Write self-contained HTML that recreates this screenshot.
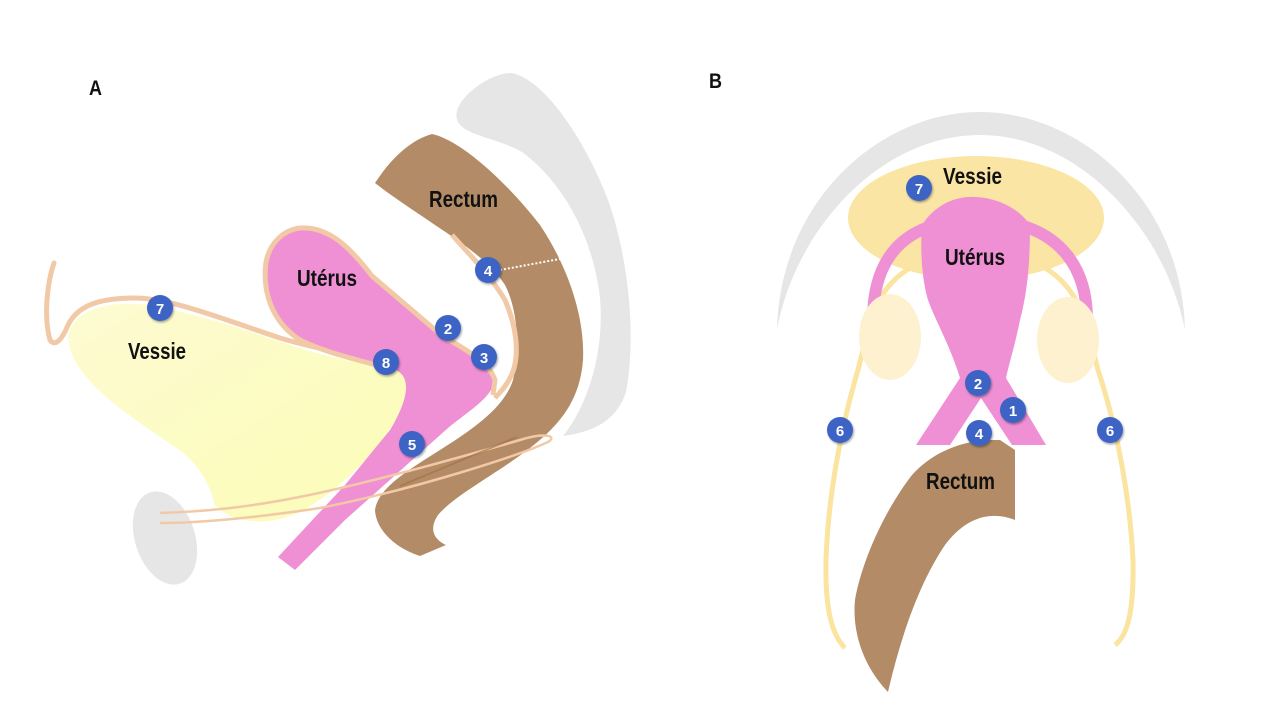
<!DOCTYPE html>
<html><head><meta charset="utf-8"><style>
html,body{margin:0;padding:0;background:#fff;}
svg{display:block;}
text{font-family:"Liberation Sans Narrow","Liberation Sans",sans-serif;font-weight:bold;}
.lbl{font-size:23px;fill:#111;}
.num{font-size:15px;fill:#fff;text-anchor:middle;}
</style></head><body>
<svg width="1280" height="719" viewBox="0 0 1280 719" xmlns="http://www.w3.org/2000/svg">
<defs>
<linearGradient id="vg" x1="0" y1="0" x2="1" y2="1">
<stop offset="0" stop-color="#fdfbd2"/><stop offset="1" stop-color="#fcfcb6"/>
</linearGradient>
<filter id="sh" x="-30%" y="-30%" width="160%" height="160%"><feDropShadow dx="1" dy="1.5" stdDeviation="1" flood-opacity="0.35"/></filter>
</defs>

<!-- Panel A -->
<text x="89" y="95" class="lbl" style="font-size:21px" textLength="13" lengthAdjust="spacingAndGlyphs">A</text>
<path d="M458,122 C448,102 490,72 512,73 C545,80 585,140 608,200 C630,262 636,340 626,392 C616,422 592,432 563,436 C592,400 606,340 599,290 C590,230 560,180 522,152 C495,137 466,136 458,122 Z" fill="#e6e6e6"/>
<ellipse cx="165" cy="538" rx="30" ry="48" transform="rotate(-18 165 538)" fill="#e6e6e6"/>
<path d="M375,183 C390,160 410,140 432,134 C460,140 505,180 540,225 C570,270 585,320 583,360 C580,400 560,425 530,448 C495,475 455,495 438,515 C428,530 435,540 446,545 L420,556 C395,548 376,530 375,510 C378,490 400,475 440,450 C480,425 505,405 513,380 C520,350 518,310 505,285 C490,262 465,245 435,225 C410,208 390,195 375,183 Z" fill="#b38c67"/>
<path d="M452,235 C470,255 490,275 505,300 C518,330 520,360 510,378 C505,388 500,392 495,398" fill="none" stroke="#f2c9a6" stroke-width="5"/>
<path d="M68,335 C75,310 105,300 150,305 C200,315 240,328 290,345 C330,358 370,366 398,368 C412,372 410,392 400,412 C380,450 340,490 300,512 C265,528 230,522 215,505 C208,480 198,462 172,445 C120,410 68,375 68,335 Z" fill="url(#vg)"/>
<path d="M54,263 C48,280 43,315 50,340 C55,347 62,340 68,325 C78,305 100,298 135,298 C170,298 220,318 280,338 C320,350 360,356 385,360" fill="none" stroke="#f2c9a6" stroke-width="5" stroke-linecap="round"/>
<path d="M300,228 C330,226 352,250 372,276 L440,334 C468,352 492,360 494,380 C494,396 470,410 448,428 L345,520 L295,570 L278,557 L345,485 L390,430 C408,400 412,378 396,370 C370,362 330,355 300,340 C272,322 262,292 266,262 C270,242 284,230 300,228 Z" fill="#ef8fd4"/>
<path d="M392,370 C370,362 330,355 300,340 C272,322 262,292 266,262 C270,242 284,230 300,228 C330,226 352,250 372,276 L440,334 C468,352 488,360 495,380 L493,395" fill="none" stroke="#f2c9a6" stroke-width="5"/>
<path d="M160,513 C250,510 320,498 520,440 C545,432 558,436 548,442 C520,455 420,488 320,508 C240,520 190,523 160,523" fill="none" stroke="#f2c9a6" stroke-width="2.5"/>
<path d="M400,486 L517,437" stroke="#a07040" stroke-width="2" opacity="0.6"/>
<path d="M500,270 L565,258" stroke="#fff" stroke-width="2" stroke-dasharray="2,2"/>
<text x="297" y="286" class="lbl" textLength="60" lengthAdjust="spacingAndGlyphs">Utérus</text>
<text x="429" y="207" class="lbl" textLength="69" lengthAdjust="spacingAndGlyphs">Rectum</text>
<text x="128" y="359" class="lbl" textLength="58" lengthAdjust="spacingAndGlyphs">Vessie</text>
<g filter="url(#sh)" fill="#3d63c4">
<circle cx="160" cy="308" r="13"/><circle cx="386" cy="362" r="13"/><circle cx="448" cy="328" r="13"/>
<circle cx="484" cy="357" r="13"/><circle cx="488" cy="270" r="13"/><circle cx="412" cy="444" r="13"/>
</g>
<text x="160" y="314" class="num">7</text><text x="386" y="368" class="num">8</text><text x="448" y="334" class="num">2</text>
<text x="484" y="363" class="num">3</text><text x="488" y="276" class="num">4</text><text x="412" y="450" class="num">5</text>

<!-- Panel B -->
<text x="709" y="88" class="lbl" style="font-size:21px" textLength="13" lengthAdjust="spacingAndGlyphs">B</text>
<path d="M777,330 C780,200 880,112 980,112 C1080,112 1182,200 1185,330 C1165,230 1080,135 980,135 C880,135 795,230 777,330 Z" fill="#e6e6e6"/>
<ellipse cx="976" cy="218" rx="128" ry="62" fill="#fbe5a4"/>
<path d="M910,268 C890,280 875,300 868,330 L858,370 C840,430 828,500 826,560 C825,610 832,635 845,648" fill="none" stroke="#fbe3a0" stroke-width="5"/>
<path d="M1045,268 C1065,280 1080,300 1088,330 L1098,370 C1118,430 1130,500 1133,560 C1134,610 1128,635 1115,645" fill="none" stroke="#fbe3a0" stroke-width="5"/>
<path d="M935,225 C900,235 873,262 873,320" fill="none" stroke="#ef8fd4" stroke-width="12"/>
<path d="M1020,225 C1055,235 1087,262 1087,320" fill="none" stroke="#ef8fd4" stroke-width="12"/>
<ellipse cx="890" cy="337" rx="31" ry="43" fill="#fdf1cf"/>
<ellipse cx="1068" cy="340" rx="31" ry="43" fill="#fdf1cf"/>
<path d="M922,225 C935,205 955,196 975,197 C1000,198 1020,210 1030,225 C1030,260 1028,290 1020,320 C1015,345 1010,360 1006,378 L1046,445 L1012,445 L981,398 L950,445 L916,445 L960,378 C950,345 935,320 928,300 C922,280 920,250 922,225 Z" fill="#ef8fd4"/>
<path d="M912,475 C930,455 955,443 985,440 L1000,440 L1015,450 L1015,520 C990,510 965,518 945,545 C918,585 900,640 888,692 C862,665 852,630 855,600 C862,560 885,510 912,475 Z" fill="#b38c67"/>
<text x="943" y="184" class="lbl" textLength="59" lengthAdjust="spacingAndGlyphs">Vessie</text>
<text x="945" y="265" class="lbl" textLength="60" lengthAdjust="spacingAndGlyphs">Utérus</text>
<text x="926" y="489" class="lbl" textLength="69" lengthAdjust="spacingAndGlyphs">Rectum</text>
<g filter="url(#sh)" fill="#3d63c4">
<circle cx="919" cy="188" r="13"/><circle cx="978" cy="383" r="13"/><circle cx="1013" cy="410" r="13"/>
<circle cx="979" cy="433" r="13"/><circle cx="840" cy="430" r="13"/><circle cx="1110" cy="430" r="13"/>
</g>
<text x="919" y="194" class="num">7</text><text x="978" y="389" class="num">2</text><text x="1013" y="416" class="num">1</text>
<text x="979" y="439" class="num">4</text><text x="840" y="436" class="num">6</text><text x="1110" y="436" class="num">6</text>
</svg>
</body></html>
